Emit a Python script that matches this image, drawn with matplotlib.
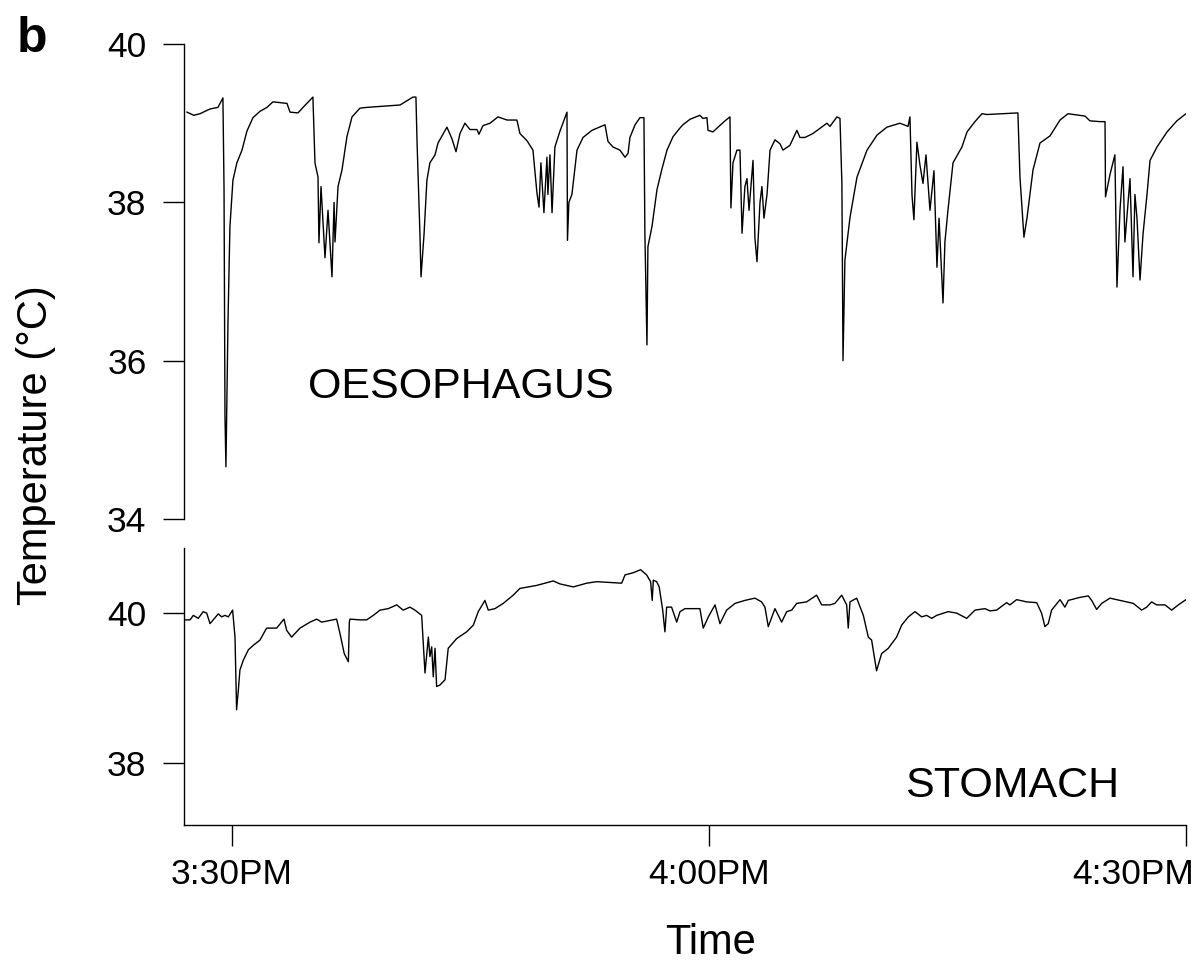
import matplotlib
matplotlib.use("Agg")
import matplotlib.pyplot as plt
from matplotlib.transforms import ScaledTranslation

plt.rcParams['font.family'] = ['Liberation Sans', 'DejaVu Sans']

# time in minutes after 3:00PM
oes_time = [27.17, 27.6, 27.99, 28.3, 28.62, 29.12, 29.43, 29.5, 29.56, 29.62, 29.75, 29.87,
            30.06, 30.31, 30.63, 30.94, 31.32, 31.76, 32.2, 32.58, 33.46, 33.65, 34.15,
            34.47, 35.09, 35.22, 35.41, 35.47, 35.6, 35.85, 36.04, 36.29, 36.42, 36.48,
            36.67, 36.92, 37.23, 37.55, 38.05, 38.49, 40.57, 41.38, 41.57, 41.64, 41.82,
            41.89, 42.08, 42.26, 42.45, 42.77, 42.96, 43.52, 43.84, 44.09, 44.34, 44.65,
            44.97, 45.41, 45.53, 45.79, 46.23, 46.73, 47.3, 47.92, 48.11, 48.55, 48.93,
            49.18, 49.31, 49.43, 49.62, 49.81, 49.87, 50.0, 50.13, 50.31, 50.63, 51.07,
            51.1, 51.19, 51.38, 51.7, 52.08, 52.64, 53.46, 53.65, 53.96, 54.4, 54.72,
            54.91, 55.03, 55.35, 55.66, 55.91, 55.97, 56.1, 56.16, 56.42, 56.73, 57.04,
            57.36, 57.74, 58.18, 58.36, 58.81, 59.43, 59.62, 59.87, 59.94, 60.25, 60.57,
            61.01, 61.32, 61.38, 61.51, 61.76, 61.95, 62.08, 62.26, 62.39, 62.52, 62.77,
            62.89, 63.02, 63.21, 63.33, 63.46, 63.65, 63.71, 63.84, 64.15, 64.47, 64.65,
            65.09, 65.53, 65.72, 66.04, 66.54, 67.42, 67.61, 68.05, 68.24, 68.36, 68.43,
            68.55, 68.87, 69.31, 69.94, 70.57, 71.19, 72.01, 72.52, 72.64, 72.77, 72.89,
            73.08, 73.27, 73.46, 73.65, 73.9, 74.15, 74.34, 74.47, 74.72, 74.84, 75.03,
            75.35, 75.91, 76.23, 76.73, 77.17, 77.48, 79.43, 79.56, 79.81, 80.0, 80.38,
            80.82, 81.45, 82.08, 82.58, 83.65, 83.96, 84.59, 84.91, 84.94, 85.22, 85.53,
            85.66, 85.85, 86.04, 86.16, 86.48, 86.67, 86.79, 86.92, 87.11, 87.3, 87.55,
            87.74, 88.18, 88.81, 89.43, 90.0]
oes_temp = [39.14, 39.1, 39.12, 39.15, 39.18, 39.2, 39.32, 38.18, 35.3, 34.66, 36.5, 37.69,
            38.28, 38.5, 38.66, 38.9, 39.07, 39.15, 39.2, 39.27, 39.25, 39.14, 39.13,
            39.2, 39.33, 38.5, 38.32, 37.49, 38.2, 37.3, 37.9, 37.06, 38.0, 37.5,
            38.2, 38.41, 38.83, 39.08, 39.19, 39.2, 39.23, 39.33, 39.33, 38.76, 37.61,
            37.06, 37.6, 38.28, 38.5, 38.6, 38.75, 38.95, 38.8, 38.64, 38.87, 39.0,
            38.92, 38.92, 38.86, 38.97, 39.0, 39.08, 39.04, 39.04, 38.87, 38.78, 38.66,
            38.12, 37.94, 38.5, 37.87, 38.57, 38.1, 38.6, 37.87, 38.7, 38.9, 39.14,
            37.52, 38.0, 38.1, 38.66, 38.82, 38.91, 38.98, 38.77, 38.7, 38.66, 38.57,
            38.62, 38.82, 38.98, 39.07, 39.07, 37.61, 36.2, 37.44, 37.7, 38.16, 38.42,
            38.66, 38.83, 38.94, 38.98, 39.05, 39.1, 39.06, 39.07, 38.91, 38.89, 38.95,
            39.03, 39.08, 37.93, 38.5, 38.66, 38.66, 37.61, 38.2, 38.3, 37.9, 38.53,
            37.55, 37.25, 38.0, 38.2, 37.8, 38.1, 38.27, 38.66, 38.79, 38.74, 38.66,
            38.72, 38.91, 38.82, 38.82, 38.87, 39.0, 38.96, 39.08, 39.06, 38.24, 36.0,
            37.27, 37.81, 38.32, 38.66, 38.85, 38.95, 39.0, 38.96, 39.08, 38.09, 37.78,
            38.76, 38.47, 38.24, 38.6, 37.9, 38.4, 37.18, 37.8, 36.73, 37.5, 37.9,
            38.5, 38.7, 38.89, 39.02, 39.12, 39.11, 39.13, 38.32, 37.56, 37.8, 38.41,
            38.75, 38.84, 39.04, 39.12, 39.09, 39.03, 39.02, 39.02, 38.07, 38.35, 38.6,
            36.93, 37.9, 38.45, 37.5, 38.3, 37.06, 38.1, 37.8, 37.02, 37.6, 38.1,
            38.53, 38.7, 38.89, 39.03, 39.12]

sto_time = [27.0, 27.36, 27.57, 27.88, 28.19, 28.41, 28.62, 28.82, 29.14, 29.35, 29.56, 29.77,
            30.04, 30.19, 30.29, 30.4, 30.5, 30.71, 31.03, 31.34, 31.76, 32.18, 32.81,
            33.27, 33.44, 33.75, 34.28, 34.91, 35.33, 35.64, 36.58, 36.79, 37.06, 37.32,
            37.38, 37.42, 38.05, 38.47, 38.89, 39.31, 39.83, 40.36, 40.77, 41.19, 41.51,
            41.93, 42.14, 42.35, 42.45, 42.56, 42.66, 42.77, 42.87, 43.08, 43.4, 43.6,
            44.13, 44.76, 45.18, 45.49, 45.91, 46.12, 46.54, 47.06, 47.69, 48.11, 48.64,
            49.16, 50.21, 50.63, 51.47, 52.31, 52.94, 54.51, 54.72, 55.24, 55.7, 56.08,
            56.33, 56.43, 56.5, 56.71, 56.87, 57.09, 57.23, 57.34, 57.65, 57.97, 58.18,
            58.49, 59.43, 59.64, 59.96, 60.38, 60.69, 61.11, 61.64, 62.26, 62.89, 63.31,
            63.52, 63.73, 64.15, 64.57, 64.89, 65.2, 65.52, 66.14, 66.77, 67.09, 67.61,
            67.92, 68.35, 68.66, 68.76, 68.87, 69.29, 69.71, 70.02, 70.23, 70.54, 70.86,
            71.28, 71.8, 72.12, 72.54, 72.96, 73.38, 73.69, 74.01, 74.32, 75.05, 75.58,
            76.21, 76.73, 77.36, 77.67, 78.09, 78.72, 78.93, 79.35, 79.98, 80.61, 80.92,
            81.13, 81.34, 81.55, 82.08, 82.39, 82.6, 83.33, 83.86, 84.07, 84.38, 84.7,
            85.22, 86.06, 86.69, 87.21, 87.53, 87.84, 88.16, 88.68, 89.1, 89.52, 90.0]
sto_temp = [39.91, 39.91, 39.97, 39.93, 40.02, 40.0, 39.86, 39.91, 39.99, 39.95, 39.97, 39.95,
            40.04, 39.68, 38.71, 38.97, 39.24, 39.37, 39.51, 39.57, 39.64, 39.8, 39.8,
            39.92, 39.77, 39.68, 39.8, 39.88, 39.92, 39.88, 39.92, 39.73, 39.46, 39.35,
            39.88, 39.92, 39.91, 39.91, 39.97, 40.04, 40.06, 40.11, 40.04, 40.08, 40.04,
            39.97, 39.2, 39.68, 39.42, 39.55, 39.15, 39.53, 39.02, 39.04, 39.11, 39.53,
            39.66, 39.75, 39.84, 40.02, 40.17, 40.04, 40.06, 40.13, 40.24, 40.33, 40.35,
            40.37, 40.43, 40.39, 40.35, 40.4, 40.42, 40.4, 40.51, 40.54, 40.58, 40.51,
            40.42, 40.17, 40.44, 40.42, 40.35, 40.04, 39.75, 40.08, 40.08, 39.88, 40.02,
            40.06, 40.06, 39.8, 39.95, 40.11, 39.86, 40.04, 40.13, 40.17, 40.2, 40.15,
            40.08, 39.82, 40.06, 39.88, 40.02, 40.04, 40.13, 40.15, 40.24, 40.11, 40.11,
            40.13, 40.24, 40.11, 39.8, 40.15, 40.2, 39.97, 39.68, 39.64, 39.23, 39.46,
            39.53, 39.68, 39.84, 39.95, 40.02, 39.95, 39.97, 39.93, 39.97, 40.02, 40.0,
            39.93, 40.04, 40.06, 40.03, 40.04, 40.14, 40.11, 40.18, 40.15, 40.14, 40.0,
            39.82, 39.86, 40.04, 40.18, 40.08, 40.17, 40.21, 40.23, 40.17, 40.05, 40.13,
            40.2, 40.16, 40.13, 40.04, 40.08, 40.15, 40.11, 40.11, 40.04, 40.11, 40.18]

time_ticks = [30, 60, 90]
time_labels = ["3:30PM", "4:00PM", "4:30PM"]
oes_yticks = [34, 36, 38, 40]
sto_yticks = [38, 40]

fig = plt.figure(figsize=(12, 9.68), dpi=100)
ax1 = fig.add_axes([0.1533, 0.4638, 0.8350, 0.4907])
ax2 = fig.add_axes([0.1533, 0.1477, 0.8350, 0.2862])

tick_kw = dict(direction='out', length=15, width=1.0, labelsize=25.5, pad=12)

ax1.plot(oes_time, oes_temp, color='black', lw=1.0)
ax1.set_xlim(26.98, 90.0)
ax1.set_ylim(34, 40)
ax1.set_yticks(oes_yticks)
ax1.set_xticks([])
for s in ['top', 'right', 'bottom']:
    ax1.spines[s].set_visible(False)
ax1.spines['left'].set_linewidth(1.0)
ax1.tick_params(axis='y', **tick_kw)

ax2.plot(sto_time, sto_temp, color='black', lw=1.0)
ax2.set_xlim(26.98, 90.0)
ax2.set_ylim(37.17, 40.87)
ax2.set_yticks(sto_yticks)
ax2.set_xticks(time_ticks)
ax2.set_xticklabels(time_labels)
for s in ['top', 'right']:
    ax2.spines[s].set_visible(False)
ax2.spines['left'].set_linewidth(1.0)
ax2.spines['bottom'].set_linewidth(1.0)
ax2.tick_params(axis='both', **tick_kw)
ax2.tick_params(axis='x', pad=9)

# last time label kept inside the figure, as in the original
last = ax2.get_xticklabels()[-1]
last.set_ha('right')
last.set_transform(last.get_transform() + ScaledTranslation(6/72, 0, fig.dpi_scale_trans))

fig.text(308/1200, 1 - 398/968, "OESOPHAGUS", fontsize=31, ha='left', va='baseline')
fig.text(905/1200, 1 - 797/968, "STOMACH", fontsize=31, ha='left', va='baseline')
fig.text(36/1200, 1 - 445/968, "Temperature (°C)", fontsize=30, rotation=90,
         ha='center', va='center')
fig.text(710/1200, 1 - 943/968, "Time", fontsize=30, ha='center', va='center')
fig.text(17/1200, 1 - 52/968, "b", fontsize=36, fontweight='bold', ha='left', va='baseline')

fig.savefig("out.png", dpi=100)
